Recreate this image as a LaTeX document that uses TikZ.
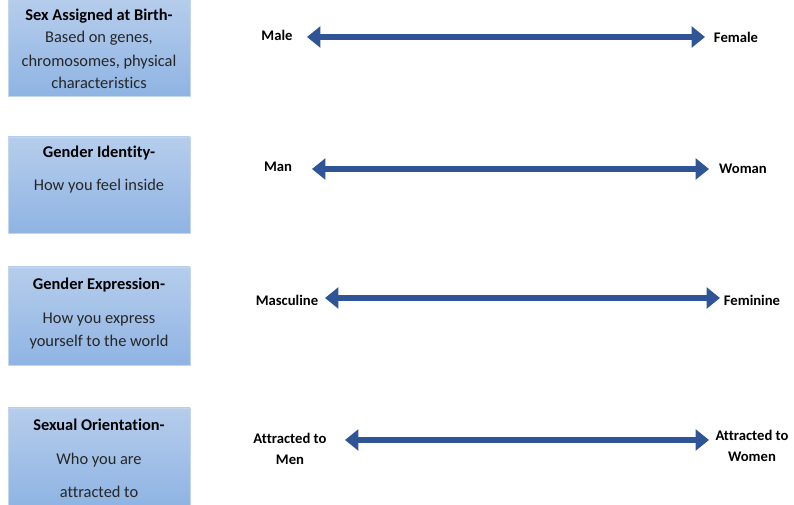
\documentclass[tikz,border=0pt]{standalone}
\usepackage{fontspec}
\setmainfont{Carlito}[Ligatures=NoCommon]
\usetikzlibrary{arrows.meta}
\definecolor{boxtop}{RGB}{182,205,236}
\definecolor{boxbot}{RGB}{143,180,227}
\definecolor{boxline}{RGB}{196,214,238}
\definecolor{spanblue}{RGB}{47,85,151}

\begin{document}
\begin{tikzpicture}[
           x = 0.75pt, y = -0.75pt,
  catbox/.style = {draw=boxline, top color=boxtop, bottom color=boxbot,
                   minimum width=136.5pt, inner sep=0pt},
  title/.style  = {font=\fontsize{12.3}{14}\selectfont\bfseries, inner sep=0pt},
  body/.style   = {font=\fontsize{12.3}{14}\selectfont, inner sep=0pt, text=black!85},
  pole/.style   = {font=\fontsize{11}{16}\selectfont\bfseries, inner sep=0pt, align=center},
  span/.style   = {draw=spanblue, line width=5pt,
                   {Triangle[length=10pt,width=15.5pt]}-{Triangle[length=10pt,width=15.5pt]}}
                        ]
\useasboundingbox (0,0) rectangle (794,505);
% category boxes
    \node[catbox, minimum height=73pt] (sexbox) at (99,47.5) {};
    \node[catbox, minimum height=72pt] (identbox) at (99,185) {};
    \node[catbox, minimum height=73.5pt] (exprbox) at (99,316) {};
    \node[catbox, minimum height=73.5pt] (orientbox) at (99,457) {};
% box texts
    \node[title] (sextitle) at (99,16) {Sex Assigned at Birth-};
    \node[body] (sexa) at (99,38) {Based on genes,};
    \node[body] (sexb) at (99,62) {chromosomes, physical};
    \node[body] (sexc) at (99,83) {characteristics};
    \node[title] (identtitle) at (99,153) {Gender Identity-};
    \node[body] (identa) at (99,186) {How you feel inside};
    \node[title] (exprtitle) at (99,285) {Gender Expression-};
    \node[body] (expra) at (99,320) {How you express};
    \node[body] (exprb) at (99,342) {yourself to the world};
    \node[title] (orienttitle) at (99,425) {Sexual Orientation-};
    \node[body] (orienta) at (99,460) {Who you are};
    \node[body] (orientb) at (99,492) {attracted to};
% pole labels
    \node[pole] (male) at (277,35) {Male};
    \node[pole] (female) at (736,37) {Female};
    \node[pole] (man) at (278,167) {Man};
    \node[pole] (woman) at (743,169) {Woman};
    \node[pole] (masc) at (287,300) {Masculine};
    \node[pole] (fem) at (752,300) {Feminine};
    \node[pole] (tomen) at (290,449) {Attracted to\\Men};
    \node[pole] (towomen) at (752,446) {Attracted to\\Women};
% arrow ends
    \coordinate (sexL) at (307,37);   \coordinate (sexR) at (705,37);
    \coordinate (identL) at (312,169); \coordinate (identR) at (709,169);
    \coordinate (exprL) at (325,298);  \coordinate (exprR) at (720,298);
    \coordinate (orientL) at (345,440); \coordinate (orientR) at (709,440);
% spectrum arrows
    \draw[span] (sexL) -- (sexR);
    \draw[span] (identL) -- (identR);
    \draw[span] (exprL) -- (exprR);
    \draw[span] (orientL) -- (orientR);
\end{tikzpicture}
\end{document}
